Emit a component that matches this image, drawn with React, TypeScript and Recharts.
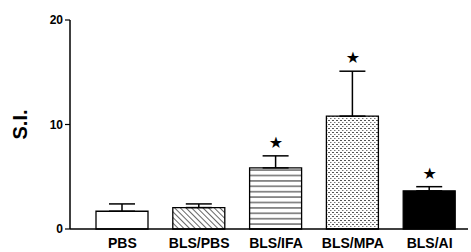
import React from 'react';
import { ComposedChart, Bar, Cell, ErrorBar, Scatter, XAxis, YAxis } from 'recharts';

const groups = ['PBS', 'BLS/PBS', 'BLS/IFA', 'BLS/MPA', 'BLS/AI'];
const means = [1.7, 2.05, 5.85, 10.8, 3.65];
const sems = [0.7, 0.35, 1.15, 4.3, 0.4];
const significant = [false, false, true, true, true];
const fills = ['#ffffff', 'url(#hatch)', 'url(#hlines)', 'url(#stipple)', '#000000'];
const yTicks = [0, 10, 20];

const data = groups.map((g, i) => ({
    name: g,
    si: means[i],
    err: [0, sems[i]],
    star: significant[i] ? means[i] + sems[i] : null,
}));

const font = '"Liberation Sans", Arial, sans-serif';

const StarShape = (props: any) => {
    const { cx, cy } = props;
    if (cy == null || isNaN(cy)) return null;
    return (
        <text x={cx} y={cy - 8} textAnchor="middle" fontSize={16} fontFamily="DejaVu Sans" fill="#000">
            ★
        </text>
    );
};

const App: React.FC = () => {
    return (
        <div style={{ width: 471, height: 252, background: '#fff' }}>
            <style>{'body{margin:0}'}</style>
            <ComposedChart width={471} height={252} data={data} margin={{ top: 20, right: 3, bottom: 0, left: 0 }} barCategoryGap={25}>
                <defs>
                    <pattern id="hatch" width="4" height="4" patternUnits="userSpaceOnUse" patternTransform="rotate(-45)">
                        <rect width="4" height="4" fill="#fff" />
                        <line x1="0" y1="0" x2="0" y2="4" stroke="#000" strokeWidth="1.2" />
                    </pattern>
                    <pattern id="hlines" width="6" height="5.4" patternUnits="userSpaceOnUse">
                        <rect width="6" height="5.4" fill="#fff" />
                        <line x1="0" y1="2.7" x2="6" y2="2.7" stroke="#222" strokeWidth="1" />
                    </pattern>
                    <pattern id="stipple" width="4" height="4" patternUnits="userSpaceOnUse">
                        <rect width="4" height="4" fill="#fff" />
                        <rect x="0" y="0" width="2" height="1" fill="#555" />
                        <rect x="2" y="2" width="1.5" height="1" fill="#777" />
                    </pattern>
                </defs>
                <XAxis
                    dataKey="name"
                    height={23}
                    padding={{ left: 14, right: 0 }}
                    tickLine={false}
                    tickSize={4}
                    tickMargin={5}
                    axisLine={{ stroke: '#000', strokeWidth: 1.5 }}
                    tick={{ fill: '#000', fontSize: 14, fontWeight: 'bold', fontFamily: font }}
                    interval={0}
                />
                <YAxis
                    width={70}
                    domain={[0, 20]}
                    ticks={yTicks}
                    tickSize={5}
                    tickMargin={2}
                    axisLine={{ stroke: '#000', strokeWidth: 1.5 }}
                    tickLine={{ stroke: '#000', strokeWidth: 1.2 }}
                    tick={{ fill: '#000', fontSize: 12, fontWeight: 'bold', fontFamily: font }}
                    label={{
                        value: 'S.I.',
                        angle: -90,
                        position: 'insideLeft',
                        offset: 20,
                        style: { fill: '#000', fontSize: 20, fontWeight: 'bold', fontFamily: font, textAnchor: 'middle' },
                    }}
                />
                <Bar dataKey="si" barSize={52} stroke="#000" strokeWidth={1.3} isAnimationActive={false}>
                    {data.map((d, i) => (
                        <Cell key={d.name} fill={fills[i]} />
                    ))}
                    <ErrorBar dataKey="err" width={13} stroke="#000" strokeWidth={1.5} direction="y" />
                </Bar>
                <Scatter dataKey="star" shape={<StarShape />} isAnimationActive={false} />
            </ComposedChart>
        </div>
    );
};

export default App;
